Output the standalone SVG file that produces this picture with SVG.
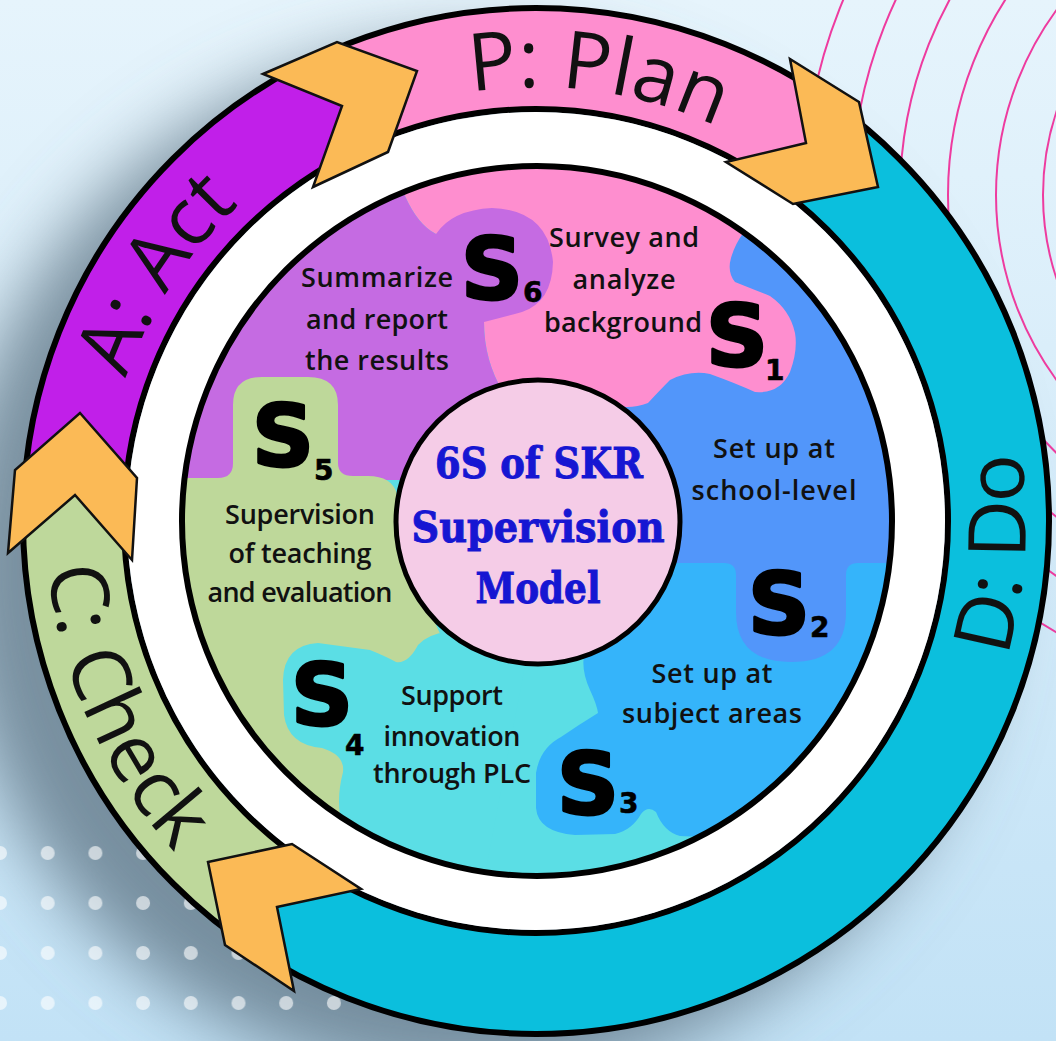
<svg xmlns="http://www.w3.org/2000/svg" width="1056" height="1041" viewBox="0 0 1056 1041">
<defs>
<style>
.lbl{font-family:'Open Sans','Liberation Sans',sans-serif;font-weight:600;font-size:27px;fill:#111;text-anchor:middle}
.big{font-family:'DejaVu Sans','Liberation Sans',sans-serif;font-weight:700;font-size:86px;fill:#000;stroke:#000;stroke-width:3;stroke-linejoin:round}
.sub{font-size:28px;stroke-width:0.6}
.ring{font-family:'Open Sans','Liberation Sans',sans-serif;font-weight:400;font-size:80px;fill:#111}
.ctr{font-family:'DejaVu Serif','Liberation Serif',serif;font-weight:700;font-size:42px;fill:#1616D2;stroke:#1616D2;stroke-width:1;text-anchor:middle}
.chev{fill:#FBBA56;stroke:#111;stroke-width:2.5;stroke-linejoin:miter}
.arc{fill:none;stroke:#EE3B9F;stroke-width:2}
.edge{fill:none;stroke:#000;stroke-width:6}
</style>
<linearGradient id="bg" x1="0" y1="0" x2="0" y2="1">
<stop offset="0" stop-color="#E6F4FC"/><stop offset="1" stop-color="#C2E2F6"/>
</linearGradient>
<filter id="blur" x="-50%" y="-50%" width="200%" height="200%"><feGaussianBlur stdDeviation="35"/></filter>
<pattern id="dotp" x="-23.85" y="828" width="47.7" height="50" patternUnits="userSpaceOnUse"><circle cx="23.85" cy="25" r="7" fill="#fff" fill-opacity="0.6"/></pattern>
<clipPath id="annulus"><path clip-rule="evenodd" d="M 536 6 A 515 515 0 1 1 536 1036 A 515 515 0 1 1 536 6 Z M 536 111 A 410 410 0 1 0 536 931 A 410 410 0 1 0 536 111 Z"/></clipPath>
<clipPath id="diskclip"><circle cx="537" cy="521" r="355"/></clipPath>
<path id="pP" d="M 152.8 317.2 A 434 434 0 0 1 960.5 430.8"/>
<path id="pA" d="M 189.4 782.2 A 434 434 0 0 1 633.6 98.1"/>
<path id="pD" d="M 671.1 992.0 A 490 490 0 0 0 735.3 73.4"/>
<path id="pC" d="M 195.6 168.5 A 490 490 0 0 0 570.2 1009.8"/>
</defs>

<rect width="1056" height="1041" fill="url(#bg)"/>
<g id="background-arcs">
<circle class="arc" cx="1309" cy="195" r="266"/>
<circle class="arc" cx="1309" cy="195" r="313"/>
<circle class="arc" cx="1309" cy="195" r="361"/>
<circle class="arc" cx="1309" cy="195" r="409"/>
<circle class="arc" cx="1309" cy="195" r="457"/>
<circle class="arc" cx="1309" cy="195" r="505"/>
</g>
<circle cx="470" cy="565" r="520" fill="#637989" fill-opacity="0.8" filter="url(#blur)"/>
<rect x="-24" y="828" width="430" height="200" fill="url(#dotp)"/>

<g id="pdca-ring">
<g clip-path="url(#annulus)">
<path fill="#FE8ECF" d="M 536 521 L 350.5 169.5 L 379.5 88.5 L 300 58 L 64 -405 L 1113 -360 L 824.5 80.5 L 842 165 L 759.5 183 Z"/>
<path fill="#0BBFDD" d="M 536 521 L 759.5 183 L 842 165 L 824.5 80.5 L 1113 -360 L 1700 -360 L 1700 1700 L -17 1700 L -17 1415 L 259.5 968 L 242.5 884.5 L 326.5 866.5 Z"/>
<path fill="#BED89B" d="M 536 521 L 326.5 866.5 L 242.5 884.5 L 259.5 968 L -17 1415 L -700 1415 L -513 502 L 11.5 511.5 L 77.5 454 L 134.5 519 Z"/>
<path fill="#C11FE9" d="M 536 521 L 134.5 519 L 77.5 454 L 11.5 511.5 L -513 502 L -513 -405 L 64 -405 L 300 58 L 379.5 88.5 L 350.5 169.5 Z"/>
</g>
<circle class="edge" cx="536" cy="521" r="513"/>
<circle class="edge" cx="536" cy="521" r="412"/>
<circle cx="536" cy="521" r="409" fill="#fff"/>
</g>

<g id="ring-labels">
<text class="ring"><textPath href="#pP" startOffset="50%" text-anchor="middle">P: Plan</textPath></text>
<text class="ring"><textPath href="#pD" startOffset="50%" text-anchor="middle">D: Do</textPath></text>
<text class="ring"><textPath href="#pC" startOffset="50%" text-anchor="middle">C: Check</textPath></text>
<text class="ring"><textPath href="#pA" startOffset="50%" text-anchor="middle">A: Act</textPath></text>
</g>

<g id="connectors">
<polygon class="chev" points="263,74 337,42 417,71 388,152 313,187 342,106"/>
<polygon class="chev" points="790,59 859,102 878,187 793,204 726,162 806,143"/>
<polygon class="chev" points="208,862 292,844 361,889 277,907 294,991 225,945"/>
<polygon class="chev" points="80,413 137,478 132,560 75,495 8,553 15,470"/>
</g>

<g id="disk">
<g clip-path="url(#diskclip)">
<rect x="150" y="150" width="780" height="760" fill="#5BDEE5"/>
<path fill="#35B4FA" d="M 640 540 L 585 650 Q 580 668 590 690 Q 597 705 598 713 Q 580 724 561 737 Q 540 748 536 773 L 536 808 Q 538 832 575 835 L 615 834 Q 632 830 641 814 Q 648 805 656 812 Q 664 832 680 836 L 760 840 L 940 700 L 940 540 Z"/>
<path fill="#5296FA" d="M 560 470 L 600 360 L 750 200 L 950 300 L 950 563 L 858 563 Q 846 563 846 575 L 846 612 Q 846 662 791 662 Q 736 662 736 612 L 736 575 Q 736 563 724 563 L 600 563 Z"/>
<path fill="#FE8ECF" d="M 380 100 L 405 196 Q 418 225 436 234 L 470 260 L 484 322 Q 484 360 503 392 L 520 420 L 612 405 Q 630 410 648 403 Q 660 390 670 380 Q 690 370 710 374 Q 735 383 755 392 Q 780 394 790 372 Q 798 350 795 333 Q 790 310 770 296 Q 750 288 735 282 Q 727 272 731 258 Q 735 244 744 232 L 820 100 Z"/>
<path fill="#C56BE2" d="M 100 300 L 380 100 L 405 196 Q 418 225 436 234 Q 452 210 492 208 Q 548 210 553 262 Q 552 302 522 312 Q 500 318 484 322 Q 484 360 503 392 L 470 480 L 100 480 Z"/>
<path fill="#BED89A" d="M 100 478 L 218 478 Q 233 478 233 463 L 233 405 Q 233 377 262 377 L 308 377 Q 338 377 338 405 L 338 463 Q 338 476 353 476 L 368 476 Q 392 476 397 494 L 422 520 L 425 600 L 445 645 L 420 900 L 100 900 Z"/>
<path fill="#5BDEE5" d="M 525 600 L 447 632 Q 428 634 418 645 Q 408 664 396 662 Q 385 656 370 650 L 318 643 Q 284 645 283 680 L 284 715 Q 288 745 322 748 Q 345 755 343 772 Q 337 795 340 815 L 345 900 L 480 900 L 530 640 Z"/>
</g>
<circle class="edge" cx="537" cy="521" r="355"/>
</g>

<g id="s6">
<text class="big" x="461" y="299" font-size="82">S<tspan class="sub" dx="0" dy="3">6</tspan></text>
<text class="lbl" x="377" y="287" textLength="152">Summarize</text>
<text class="lbl" x="377" y="329" textLength="142">and report</text>
<text class="lbl" x="377" y="370" textLength="144">the results</text>
</g>
<g id="s1">
<text class="big" x="706" y="366">S<tspan class="sub" dx="-3" dy="14" font-size="35">1</tspan></text>
<text class="lbl" x="624" y="247" textLength="150">Survey and</text>
<text class="lbl" x="624" y="289" textLength="103">analyze</text>
<text class="lbl" x="623" y="332" textLength="158">background</text>
</g>
<g id="s2">
<text class="big" x="748" y="634">S<tspan class="sub" dx="0" dy="3">2</tspan></text>
<text class="lbl" x="774" y="458" textLength="122">Set up at</text>
<text class="lbl" x="774" y="500" textLength="165">school-level</text>
</g>
<g id="s3">
<text class="big" x="557" y="814">S<tspan class="sub" dx="0" dy="-1">3</tspan></text>
<text class="lbl" x="712" y="683" textLength="121">Set up at</text>
<text class="lbl" x="712" y="723" textLength="180">subject areas</text>
</g>
<g id="s4">
<text class="big" x="291" y="725">S<tspan class="sub" dx="-8" dy="30">4</tspan></text>
<text class="lbl" x="452" y="705" textLength="102">Support</text>
<text class="lbl" x="452" y="746" textLength="137">innovation</text>
<text class="lbl" x="452" y="783" textLength="158">through PLC</text>
</g>
<g id="s5">
<text class="big" x="252" y="466">S<tspan class="sub" dx="0" dy="14">5</tspan></text>
<text class="lbl" x="300" y="524" textLength="150">Supervision</text>
<text class="lbl" x="300" y="563" textLength="143">of teaching</text>
<text class="lbl" x="300" y="602" textLength="185">and evaluation</text>
</g>

<g id="center">
<circle cx="538" cy="522" r="142" fill="#F5CCE7" stroke="#000" stroke-width="5"/>
<text class="ctr" x="539" y="478" textLength="208" lengthAdjust="spacingAndGlyphs">6S of SKR</text>
<text class="ctr" x="538" y="542" textLength="253" lengthAdjust="spacingAndGlyphs">Supervision</text>
<text class="ctr" x="538" y="603" textLength="125" lengthAdjust="spacingAndGlyphs">Model</text>
</g>
</svg>
